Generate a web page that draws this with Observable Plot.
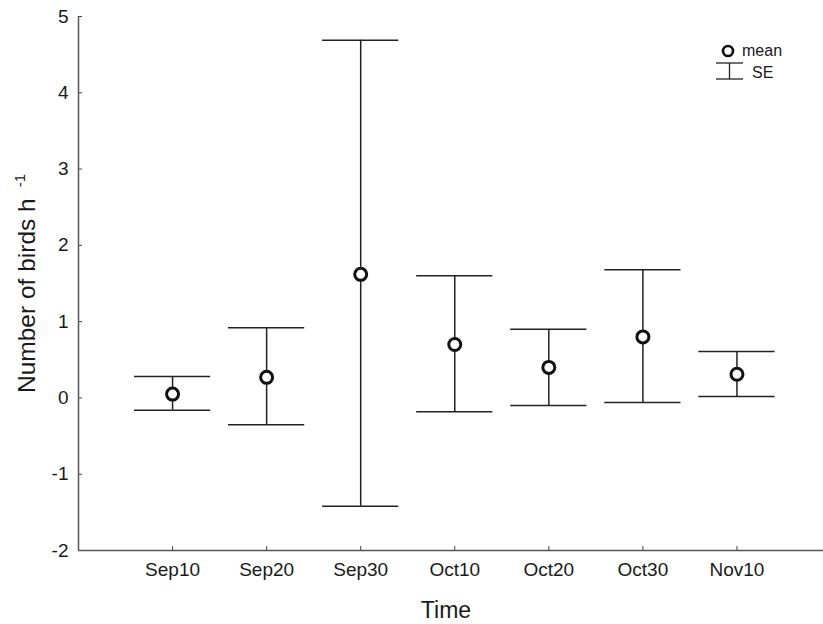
<!DOCTYPE html>
<html>
<head>
<meta charset="utf-8">
<script src="https://cdn.jsdelivr.net/npm/d3@7"></script>
<script src="https://cdn.jsdelivr.net/npm/@observablehq/plot@0.6"></script>
<style>
  html, body { margin: 0; padding: 0; background: #fff; }
  #chart { width: 823px; height: 624px; }
  svg { font-family: "Liberation Sans", Arial, Helvetica, sans-serif; }
</style>
</head>
<body>
<div id="chart"></div>
<script>
// Data
const periods = ["Sep10", "Sep20", "Sep30", "Oct10", "Oct20", "Oct30", "Nov10"];
const means   = [0.05, 0.27, 1.62, 0.70, 0.40, 0.80, 0.31];
const seUpper = [0.28, 0.92, 4.69, 1.60, 0.90, 1.68, 0.61];
const seLower = [-0.16, -0.35, -1.42, -0.18, -0.10, -0.06, 0.02];
const yTicks  = [-2, -1, 0, 1, 2, 3, 4, 5];

const data = periods.map((p, k) => ({
  i: k + 1, label: p, mean: means[k], hi: seUpper[k], lo: seLower[k]
}));

const ink = "#1a1a1a";

const chart = Plot.plot({
  width: 823,
  height: 624,
  marginLeft: 78,
  marginRight: 0,
  marginTop: 16,
  marginBottom: 74,
  style: { fontFamily: '"Liberation Sans", Arial, sans-serif', color: ink, background: "white" },
  x: { domain: [0, 7.92] },
  y: { domain: [-2, 5] },
  marks: [
    Plot.axisX({
      ticks: data.map(d => d.i),
      tickFormat: i => periods[i - 1],
      tickSize: -4,
      tickPadding: 16,
      fontSize: 19,
      label: null,
      stroke: "#444"
    }),
    Plot.axisY({
      ticks: yTicks,
      tickFormat: d => String(d),
      tickSize: -4,
      tickPadding: 14,
      fontSize: 19,
      label: null,
      stroke: "#444"
    }),
    Plot.ruleX([0], { stroke: "#555", strokeWidth: 1.5 }),
    Plot.ruleY([-2], { stroke: "#555", strokeWidth: 1.5 }),
    Plot.ruleX(data, { x: "i", y1: "lo", y2: "hi", stroke: "#222", strokeWidth: 1.5 }),
    Plot.ruleY(data, { y: "hi", x1: d => d.i - 0.405, x2: d => d.i + 0.405, stroke: "#222", strokeWidth: 1.5 }),
    Plot.ruleY(data, { y: "lo", x1: d => d.i - 0.405, x2: d => d.i + 0.405, stroke: "#222", strokeWidth: 1.5 }),
    Plot.dot(data, { x: "i", y: "mean", r: 6, fill: "white", stroke: "#111", strokeWidth: 3 })
  ]
});

document.getElementById("chart").appendChild(chart);

const svg = d3.select(chart);

// Axis titles
svg.append("text")
  .attr("x", 446).attr("y", 618)
  .attr("text-anchor", "middle")
  .attr("font-size", 23)
  .attr("fill", ink)
  .text("Time");

const yl = svg.append("text")
  .attr("transform", "translate(35,393) rotate(-90)")
  .attr("text-anchor", "start")
  .attr("font-size", 24.5)
  .attr("fill", ink);
yl.append("tspan").text("Number of birds h");
yl.append("tspan").attr("font-size", 15).attr("dx", 11).attr("dy", -10).text("-1");

// Legend
const lg = svg.append("g");
lg.append("circle").attr("cx", 728).attr("cy", 51).attr("r", 5)
  .attr("stroke", "#111").attr("stroke-width", 2.6).attr("fill", "white");
lg.append("line").attr("x1", 716).attr("x2", 743).attr("y1", 63).attr("y2", 63).attr("stroke", "#222").attr("stroke-width", 1.3);
lg.append("line").attr("x1", 716).attr("x2", 743).attr("y1", 79).attr("y2", 79).attr("stroke", "#222").attr("stroke-width", 1.3);
lg.append("line").attr("x1", 729.5).attr("x2", 729.5).attr("y1", 63).attr("y2", 79).attr("stroke", "#222").attr("stroke-width", 1.3);
svg.append("text").attr("x", 742).attr("y", 50).attr("dy", "0.35em")
  .attr("text-anchor", "start")
  .attr("font-size", 16).attr("fill", ink).text("mean");
svg.append("text").attr("x", 752).attr("y", 72).attr("dy", "0.35em")
  .attr("text-anchor", "start")
  .attr("font-size", 16).attr("fill", ink).text("SE");
</script>
</body>
</html>
